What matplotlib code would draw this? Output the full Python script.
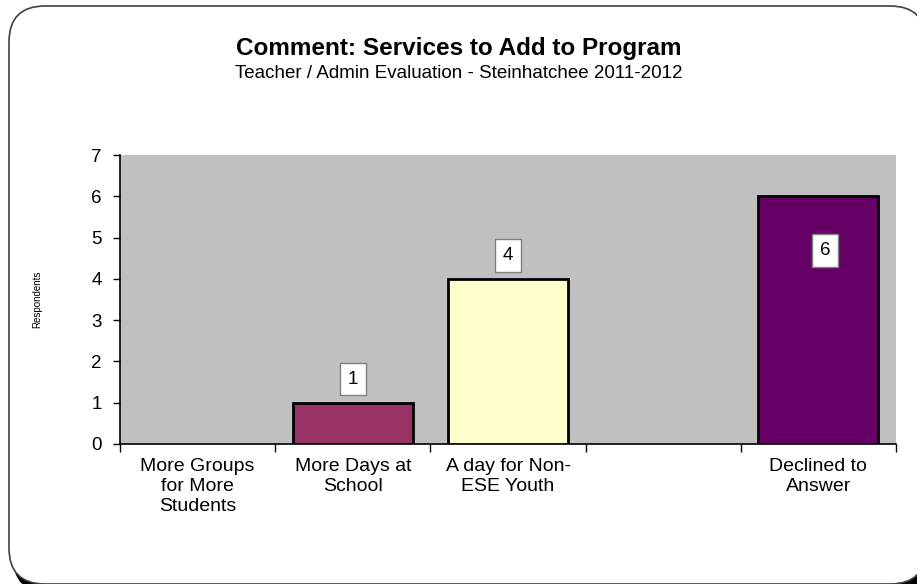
import matplotlib
matplotlib.use("Agg")
import matplotlib.pyplot as plt
import numpy as np
from matplotlib.patches import FancyBboxPatch

# survey counts per suggested service
categories = [
    "More Groups\nfor More\nStudents",
    "More Days at\nSchool",
    "A day for Non-\nESE Youth",
    "",
    "Declined to\nAnswer",
]
counts = [0, 1, 4, 0, 6]
bar_colors = ["#993366", "#993366", "#FFFFCC", "#C0C0C0", "#660066"]
y_ticks = [0, 1, 2, 3, 4, 5, 6, 7]

plt.rcParams["font.family"] = ["Liberation Sans", "DejaVu Sans"]

fig = plt.figure(figsize=(9.17, 5.84), dpi=100)

# rounded outer frame drawn in pixel space, running slightly off the canvas
bg = fig.add_axes([0, 0, 1, 1], zorder=-1)
bg.set_xlim(0, 917)
bg.set_ylim(584, 0)
bg.axis("off")
shadow = FancyBboxPatch((14, 12), 917, 580, boxstyle="round,pad=0,rounding_size=36",
                        facecolor="black", edgecolor="black", lw=2)
bg.add_patch(shadow)
frame = FancyBboxPatch((9, 6), 917, 578, boxstyle="round,pad=0,rounding_size=36",
                       facecolor="white", edgecolor="#404040", lw=1.2)
bg.add_patch(frame)

ax = fig.add_axes([120 / 917, 1 - 444 / 584, 776 / 917, 289 / 584])
ax.set_facecolor("#C0C0C0")

x = np.arange(len(counts))
bars = ax.bar(x, [c if c > 0 else np.nan for c in counts], width=0.773,
              color=bar_colors, edgecolor="black", linewidth=2, zorder=3)

ax.set_xlim(-0.5, len(counts) - 0.5)
ax.set_ylim(0, 7)
ax.set_yticks(y_ticks)
ax.set_xticks(x)
ax.set_xticklabels(categories, fontsize=14, linespacing=1.22, va="top")
ax.set_xticks(np.arange(-0.5, len(counts)), minor=True)
ax.tick_params(axis="x", which="major", length=0, pad=10)
ax.tick_params(axis="x", which="minor", length=6, width=1, color="black", direction="out")
ax.tick_params(axis="y", labelsize=13.5, length=5, width=1, direction="out", pad=8)

for side in ["top", "right"]:
    ax.spines[side].set_visible(False)
ax.spines["left"].set_linewidth(1.2)
ax.spines["bottom"].set_linewidth(1.2)

ax.set_ylabel("Respondents", fontsize=7)
ax.yaxis.set_label_coords(-0.1, 0.5)

# value labels: above the shorter bars, tucked inside the tallest one
box = dict(boxstyle="square,pad=0.42", facecolor="white", edgecolor="#808080", lw=1)
top = max(counts)
for xi, c in zip(x, counts):
    if c <= 0:
        continue
    if c == top:
        off = (5, -39)
    else:
        off = (0, 17)
    ax.annotate(str(c), xy=(xi, c), xytext=off, textcoords="offset points",
                ha="center", va="center", fontsize=13.5, bbox=box, zorder=5)

fig.text(0.5, 1 - 49 / 584, "Comment: Services to Add to Program", ha="center", va="center",
         fontsize=17.5, fontweight="bold")
fig.text(0.5, 1 - 73 / 584, "Teacher / Admin Evaluation - Steinhatchee 2011-2012", ha="center",
         va="center", fontsize=13.5)

fig.savefig("out.png", dpi=100)
